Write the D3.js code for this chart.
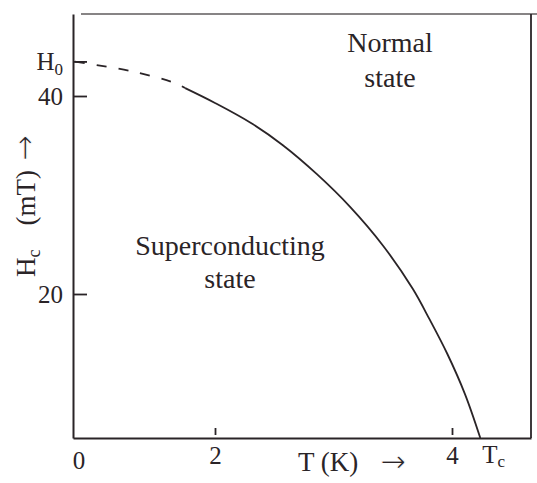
<!DOCTYPE html>
<html>
<head>
<meta charset="utf-8">
<script src="https://cdn.jsdelivr.net/npm/d3@7"></script>
<style>
  body { margin: 0; background: #fff; }
  svg text { font-family: "Liberation Serif", "DejaVu Serif", serif; fill: #2a2427; }
</style>
</head>
<body>
<svg id="chart"></svg>
<script>
// constants
const width = 537;
const height = 483;
const ink = "#2a2427";
const serif = '"Liberation Serif", "DejaVu Serif", serif';
const arrowFont = '"DejaVu Sans", sans-serif';

// critical field curve (T in K, Hc in mT)
const curveT = [0, 0.83, 1.44, 1.58, 2.0, 2.30, 2.57, 2.86, 3.14, 3.42, 3.67, 3.81, 3.96, 4.11, 4.24];
const curveH = [43.5, 42.5, 41.3, 40.8, 39.3, 37.3, 35.05, 32.1, 28.8, 24.85, 20.5, 16.5, 11.7, 6.1, 0];
const dashEnd = 3; // first part of the curve is drawn dashed

const H0 = 43.5;
const Tc = 4.24;
const xTicks = [2, 4];
const yTicks = [20, 40, H0];
const yTickLabels = ["20", "40", "H0"];

// the figure is schematic, so the scales are piecewise
const xScale = d3.scaleLinear().domain([0, 2, 4, 4.67]).range([73, 215, 452, 531]);
const yScale = d3.scaleLinear().domain([0, 20, 40, 48.3]).range([438, 294, 96, 14]);

const svg = d3.select('svg#chart').attr('width', width).attr('height', height)
  .attr('font-family', serif)

// frame: top and right edges
const [x0, x1] = d3.extent(xScale.range());
const [y1, y0] = d3.extent(yScale.range());
svg.append('line').attr('x1', x0 + 8).attr('x2', width).attr('y1', y1).attr('y2', y1)
  .attr('stroke', ink).attr('stroke-width', 1.6).attr('opacity', 0.75)
svg.append('line').attr('x1', x1).attr('x2', x1).attr('y1', y1).attr('y2', y0)
  .attr('stroke', ink).attr('stroke-width', 1.8)

// axes
const yAxis = d3.axisLeft(yScale).tickValues(yTicks).tickSize(-14).tickSizeOuter(0).tickPadding(10)
  .tickFormat((d, i) => yTickLabels[i]);
const gy = svg.append('g').attr('transform', 'translate(' + x0 + ',0)').call(yAxis)

const xAxis = d3.axisBottom(xScale).tickValues(xTicks).tickSize(-10).tickSizeOuter(0).tickPadding(8)
  .tickFormat(d3.format('d'));
const gx = svg.append('g').attr('transform', 'translate(0,' + y0 + ')').call(xAxis)

for (const g of [gx, gy]) {
  g.attr('font-family', serif)
  g.select('.domain').attr('stroke', ink).attr('stroke-width', 2)
  g.selectAll('.tick line').attr('stroke', ink).attr('stroke-width', 1.8)
  g.selectAll('.tick text').attr('font-size', 25).attr('fill', ink)
}
gx.selectAll('.tick line').attr('y1', -3)

// H0 label gets a subscript
gy.selectAll('.tick text').filter((d, i) => i === 2).text(null)
  .call(t => {
    t.append('tspan').text('H')
    t.append('tspan').attr('font-size', 17).attr('dy', 5).text('0')
  })

// origin label
svg.append('text').attr('x', x0 + 6).attr('y', y0 + 31).attr('font-size', 25)
  .attr('text-anchor', 'middle').text('0')

// Tc label
const tcLabel = svg.append('text').attr('x', xScale(Tc) + 2).attr('y', y0 + 25).attr('font-size', 25)
tcLabel.append('tspan').text('T')
tcLabel.append('tspan').attr('font-size', 17).attr('dy', 4).text('c')

// x axis title
svg.append('text').attr('x', 298).attr('y', y0 + 33).attr('font-size', 27).text('T (K)')
svg.append('text').attr('x', 380).attr('y', y0 + 34).attr('font-size', 31)
  .style('font-family', arrowFont).attr('stroke', '#fff').attr('stroke-width', 0.9)
  .text('\u2192')

// y axis title
const yTitle = svg.append('text').attr('font-size', 27)
  .attr('transform', 'translate(35,277) rotate(-90)')
yTitle.append('tspan').text('H')
yTitle.append('tspan').attr('font-size', 18).attr('dy', 5).text('c')
yTitle.append('tspan').attr('dy', -5).attr('dx', 24).text('(mT)')
yTitle.append('tspan').attr('dx', 9).attr('font-size', 31).style('font-family', arrowFont)
  .attr('stroke', '#fff').attr('stroke-width', 0.9).text('\u2192')

// critical field curve
const pts = curveT.map((t, i) => [t, curveH[i]]);
const line = d3.line().x(d => xScale(d[0])).y(d => yScale(d[1])).curve(d3.curveCatmullRom);
svg.append('path').datum(pts.slice(0, dashEnd + 1)).attr('d', line)
  .attr('fill', 'none').attr('stroke', ink).attr('stroke-width', 1.8)
  .attr('stroke-dasharray', '10,12').attr('stroke-dashoffset', -24)
svg.append('path').datum(pts.slice(dashEnd)).attr('d', line)
  .attr('fill', 'none').attr('stroke', ink).attr('stroke-width', 1.8)

// region labels
const regions = [
  { lines: ['Normal', 'state'], x: 390, y: [52, 87] },
  { lines: ['Superconducting', 'state'], x: 230, y: [255, 288] },
];
regions.forEach(r => {
  r.lines.forEach((s, i) => {
    svg.append('text').attr('x', r.x).attr('y', r.y[i]).attr('font-size', 28)
      .attr('text-anchor', 'middle').text(s)
  })
})
</script>
</body>
</html>
